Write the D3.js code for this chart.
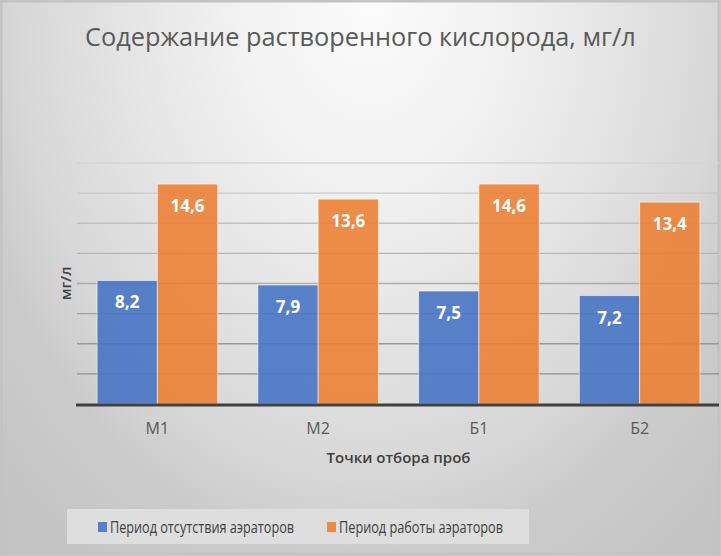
<!DOCTYPE html>
<html>
<head>
<meta charset="utf-8">
<script src="https://cdn.jsdelivr.net/npm/d3@7"></script>
<style>
  html, body { margin: 0; padding: 0; background: #c8c8c8; }
  svg { display: block; }
</style>
</head>
<body>
<div id="chart"></div>
<script>
// chart data
const categories = ['М1', 'М2', 'Б1', 'Б2'];
const seriesNames = ['Период отсутствия аэраторов', 'Период работы аэраторов'];
const noAerators = [8.2, 7.9, 7.5, 7.2];
const withAerators = [14.6, 13.6, 14.6, 13.4];
const yTicks = [0, 2, 4, 6, 8, 10, 12, 14, 16];

const colors = ['#4472c4', '#ed7d31'];
const W = 721, H = 556;
const margin = { top: 163, right: 1, bottom: 152, left: 77 };

const svg = d3.select('#chart').append('svg')
    .attr('width', W)
    .attr('height', H);

// background: soft radial gradient like the office chart style
const defs = svg.append('defs');
const bg = defs.append('radialGradient')
    .attr('id', 'bg')
    .attr('gradientUnits', 'userSpaceOnUse')
    .attr('cx', 370).attr('cy', 0).attr('r', 520)
    .attr('gradientTransform', 'scale(1,1.35)');
[[0, '#fbfbfb'], [0.25, '#f2f2f2'], [0.45, '#e6e6e6'], [0.68, '#d7d7d7'], [0.8, '#cbcbcb'], [1, '#c4c4c4']]
    .forEach(s => bg.append('stop').attr('offset', s[0]).attr('stop-color', s[1]));

svg.append('rect')
    .attr('x', 1.5).attr('y', 1.5)
    .attr('width', W - 4).attr('height', H - 4)
    .attr('fill', 'url(#bg)')
    .attr('stroke', '#c2c2c2')
    .attr('stroke-width', 2);

const x0 = d3.scaleBand()
    .domain(categories)
    .range([margin.left, W - margin.right])
    .paddingInner(0.25)
    .paddingOuter(0.125);

const x1 = d3.scaleBand()
    .domain(d3.range(seriesNames.length))
    .range([0, x0.bandwidth()]);

const y = d3.scaleLinear()
    .domain([0, 16])
    .range([H - margin.bottom, margin.top]);

// gridlines get darker toward the bottom
const gridColor = d3.scaleLinear().domain([0, 16]).range(['#858585', '#d4d4d4']);

svg.append('g')
    .selectAll('line')
    .data(yTicks.slice(1))
    .join('line')
        .attr('x1', margin.left)
        .attr('x2', W - 2)
        .attr('y1', d => y(d))
        .attr('y2', d => y(d))
        .attr('stroke', d => gridColor(d))
        .attr('stroke-width', 1.3);

// bars
const rows = categories.map((c, i) => ({ cat: c, vals: [noAerators[i], withAerators[i]] }));
const fmt = v => d3.format('.1f')(v).replace('.', ',');

const groups = svg.append('g')
    .selectAll('g')
    .data(rows)
    .join('g')
        .attr('transform', d => `translate(${x0(d.cat)},0)`);

groups.selectAll('rect')
    .data(d => d.vals.map((v, k) => ({ v, k })))
    .join('rect')
        .attr('x', d => x1(d.k))
        .attr('y', d => y(d.v))
        .attr('width', x1.bandwidth())
        .attr('height', d => y(0) - y(d.v))
        .attr('fill', d => colors[d.k])
        .attr('fill-opacity', 0.88)
        .attr('stroke', 'rgba(255,255,255,0.55)')
        .attr('stroke-width', 1);

groups.selectAll('text')
    .data(d => d.vals.map((v, k) => ({ v, k })))
    .join('text')
        .attr('x', d => x1(d.k) + x1.bandwidth() / 2)
        .attr('y', d => y(d.v) + 28)
        .attr('text-anchor', 'middle')
        .attr('fill', '#ffffff')
        .attr('font-family', 'Open Sans, sans-serif')
        .attr('font-weight', 700)
        .attr('font-size', '17px')
        .text(d => fmt(d.v));

// x axis
svg.append('line')
    .attr('x1', margin.left - 1)
    .attr('x2', W - 2)
    .attr('y1', y(0) + 1)
    .attr('y2', y(0) + 1)
    .attr('stroke', '#404040')
    .attr('stroke-width', 3);

svg.append('g')
    .selectAll('text')
    .data(categories)
    .join('text')
        .attr('x', d => x0(d) + x0.bandwidth() / 2)
        .attr('y', 434)
        .attr('text-anchor', 'middle')
        .attr('fill', '#595959')
        .attr('font-family', 'Open Sans, sans-serif')
        .attr('font-size', '16px')
        .text(d => d);

svg.append('text')
    .attr('x', (margin.left + W - margin.right) / 2)
    .attr('y', 463)
    .attr('text-anchor', 'middle')
    .attr('fill', '#404040')
    .attr('font-family', 'Open Sans, sans-serif')
    .attr('font-weight', 600)
    .attr('font-size', '15px')
    .text('Точки отбора проб');

// y axis title
svg.append('text')
    .attr('transform', `translate(71,${(margin.top + H - margin.bottom) / 2}) rotate(-90)`)
    .attr('text-anchor', 'middle')
    .attr('fill', '#404040')
    .attr('font-family', 'Open Sans, sans-serif')
    .attr('font-weight', 600)
    .attr('font-size', '15px')
    .text('мг/л');

// title
const title = svg.append('text')
    .attr('x', 85)
    .attr('y', 46)
    .attr('fill', '#595959')
    .attr('font-family', 'Open Sans, sans-serif')
    .attr('font-size', '26px')
    .text('Содержание растворенного кислорода, мг/л');
const tw = title.node().getComputedTextLength();
title.attr('font-size', (26 * 551 / tw).toFixed(2) + 'px');

// legend
svg.append('rect')
    .attr('x', 67).attr('y', 509)
    .attr('width', 462).attr('height', 35)
    .attr('fill', '#dedede');

const legendX = [98, 327];
const legendW = [184, 164];
const leg = svg.append('g')
    .selectAll('g')
    .data(seriesNames)
    .join('g')
        .attr('transform', (d, i) => `translate(${legendX[i]},522)`);

leg.append('rect')
    .attr('width', 9).attr('height', 10)
    .attr('fill', (d, i) => colors[i])
    .attr('fill-opacity', 0.88);

leg.append('text')
    .attr('x', 12)
    .attr('y', 11)
    .attr('fill', '#404040')
    .attr('font-family', 'Open Sans, sans-serif')
    .attr('font-size', '16px')
    .attr('textLength', (d, i) => legendW[i])
    .attr('lengthAdjust', 'spacingAndGlyphs')
    .text(d => d);
</script>
</body>
</html>
